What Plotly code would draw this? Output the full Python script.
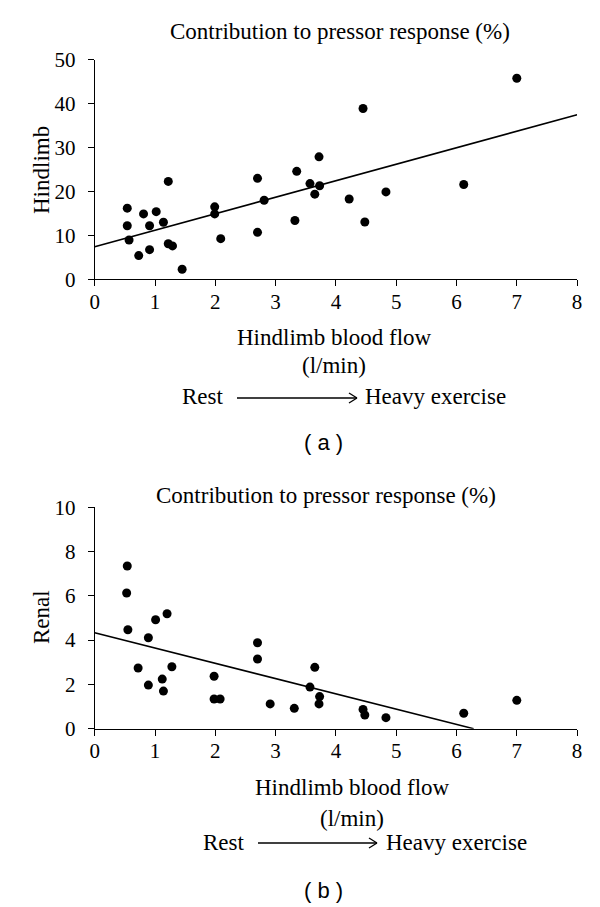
import plotly.graph_objects as go

# ---------------- data ----------------
flow_a = [0.54, 0.54, 0.57, 0.73, 0.81, 0.91, 0.91, 1.02, 1.14, 1.22, 1.22, 1.29, 1.45,
          1.99, 1.99, 2.09, 2.70, 2.70, 2.81, 3.32, 3.35, 3.57, 3.72, 3.73, 3.65,
          4.45, 4.22, 4.48, 4.83, 6.12, 7.00]
hindlimb = [16.2, 12.2, 8.95, 5.4, 14.9, 12.2, 6.75, 15.4, 13.0, 22.3, 8.1, 7.6, 2.3,
            16.5, 14.9, 9.25, 23.0, 10.7, 18.0, 13.4, 24.6, 21.8, 27.9, 21.3, 19.4,
            38.9, 18.3, 13.05, 19.9, 21.6, 45.8]
fit_a_intercept = 7.4
fit_a_slope = 3.76

flow_b = [0.54, 0.53, 0.55, 0.72, 0.89, 0.89, 1.01, 1.12, 1.14, 1.20, 1.28,
          1.98, 1.98, 2.08, 2.70, 2.70, 2.91, 3.31, 3.57, 3.65, 3.73, 3.72,
          4.45, 4.48, 4.83, 6.12, 7.00]
renal = [7.35, 6.13, 4.47, 2.74, 4.11, 1.97, 4.92, 2.24, 1.70, 5.19, 2.80,
         2.37, 1.34, 1.34, 3.88, 3.15, 1.12, 0.92, 1.88, 2.77, 1.45, 1.12,
         0.87, 0.62, 0.50, 0.70, 1.28]
fit_b_intercept = 4.33
fit_b_slope = -0.689

x_ticks = [0, 1, 2, 3, 4, 5, 6, 7, 8]
ya_ticks = [0, 10, 20, 30, 40, 50]
yb_ticks = [0, 2, 4, 6, 8, 10]

title_text = "Contribution to pressor response (%)"
xtitle_1 = "Hindlimb blood flow"
xtitle_2 = "(l/min)"
rest_text = "Rest"
heavy_text = "Heavy exercise"

# ---------------- figure ----------------
W, H = 600, 907
OFF = 8  # page body margin offset
SERIF = "Liberation Serif"
SANS = "Liberation Sans"


def px(x):
    return (x - OFF) / W


def py(y):
    return (H - (y - OFF)) / H


fig = go.Figure()

fig.add_trace(go.Scatter(x=flow_a, y=hindlimb, mode="markers",
                         marker=dict(color="black", size=9),
                         xaxis="x", yaxis="y", showlegend=False, cliponaxis=False))
xa_end = 8
fig.add_trace(go.Scatter(x=[0, xa_end],
                         y=[fit_a_intercept, fit_a_intercept + fit_a_slope * xa_end],
                         mode="lines", line=dict(color="black", width=1.6),
                         xaxis="x", yaxis="y", showlegend=False))

fig.add_trace(go.Scatter(x=flow_b, y=renal, mode="markers",
                         marker=dict(color="black", size=9),
                         xaxis="x2", yaxis="y2", showlegend=False, cliponaxis=False))
xb_end = -fit_b_intercept / fit_b_slope
fig.add_trace(go.Scatter(x=[0, xb_end],
                         y=[fit_b_intercept, fit_b_intercept + fit_b_slope * xb_end],
                         mode="lines", line=dict(color="black", width=1.6),
                         xaxis="x2", yaxis="y2", showlegend=False))

x_dom = [px(94.7), px(577.1)]


def ax(**kw):
    d = dict(showgrid=False, zeroline=False, showline=True, linecolor="black",
             linewidth=1, ticks="outside", ticklen=6, tickwidth=1,
             tickcolor="black", automargin=False,
             tickfont=dict(family=SERIF, size=21, color="black"))
    d.update(kw)
    return d


fig.update_layout(
    width=W, height=H, autosize=False,
    font=dict(family=SERIF, size=21, color="black"),
    margin=dict(l=0, r=0, t=0, b=0, pad=0, autoexpand=False),
    paper_bgcolor="white", plot_bgcolor="white",
    xaxis=ax(domain=x_dom, range=[0, 8], tickvals=x_ticks, anchor="y", ticklabelstandoff=-3),
    yaxis=ax(domain=[py(279.3), py(59.8)], range=[0, 50], tickvals=ya_ticks,
             anchor="x", ticklabelstandoff=8),
    xaxis2=ax(domain=x_dom, range=[0, 8], tickvals=x_ticks, anchor="y2", ticklabelstandoff=-3),
    yaxis2=ax(domain=[py(728.7), py(507.3)], range=[0, 10], tickvals=yb_ticks,
              anchor="x2", ticklabelstandoff=8),
)

annots = []


def txt(text, x, y, size=23, family=SERIF, angle=0, xanchor="center"):
    annots.append(dict(text=text, x=px(x), y=py(y), xref="paper", yref="paper",
                       showarrow=False, xanchor=xanchor, yanchor="middle",
                       textangle=angle, font=dict(family=family, size=size, color="black")))


# panel (a)
txt(title_text, 340, 31, size=23)
txt("Hindlimb", 41, 170, angle=-90)
txt(xtitle_1, 334, 337)
txt(xtitle_2, 334, 365)
txt(rest_text, 226, 397, xanchor="right")
txt(heavy_text, 363, 397, xanchor="left")
txt("( a )", 324, 442, size=22, family=SANS)

# panel (b)
txt(title_text, 326, 495, size=23)
txt("Renal", 41, 617, angle=-90)
txt(xtitle_1, 352, 787)
txt(xtitle_2, 352, 818)
txt(rest_text, 247, 842, xanchor="right")
txt(heavy_text, 384, 842, xanchor="left")
txt("( b )", 323, 890, size=22, family=SANS)

fig.update_layout(annotations=annots)

shapes = []


def arrow(x0, x1, y):
    line = dict(color="black", width=1.3)
    shapes.append(dict(type="line", xref="paper", yref="paper",
                       x0=px(x0), x1=px(x1), y0=py(y), y1=py(y), line=line))
    shapes.append(dict(type="line", xref="paper", yref="paper",
                       x0=px(x1 - 8), x1=px(x1), y0=py(y - 5), y1=py(y), line=line))
    shapes.append(dict(type="line", xref="paper", yref="paper",
                       x0=px(x1 - 8), x1=px(x1), y0=py(y + 5), y1=py(y), line=line))


arrow(237, 357, 398)
arrow(258, 377, 843)
fig.update_layout(shapes=shapes)

fig.write_html("out.html")
